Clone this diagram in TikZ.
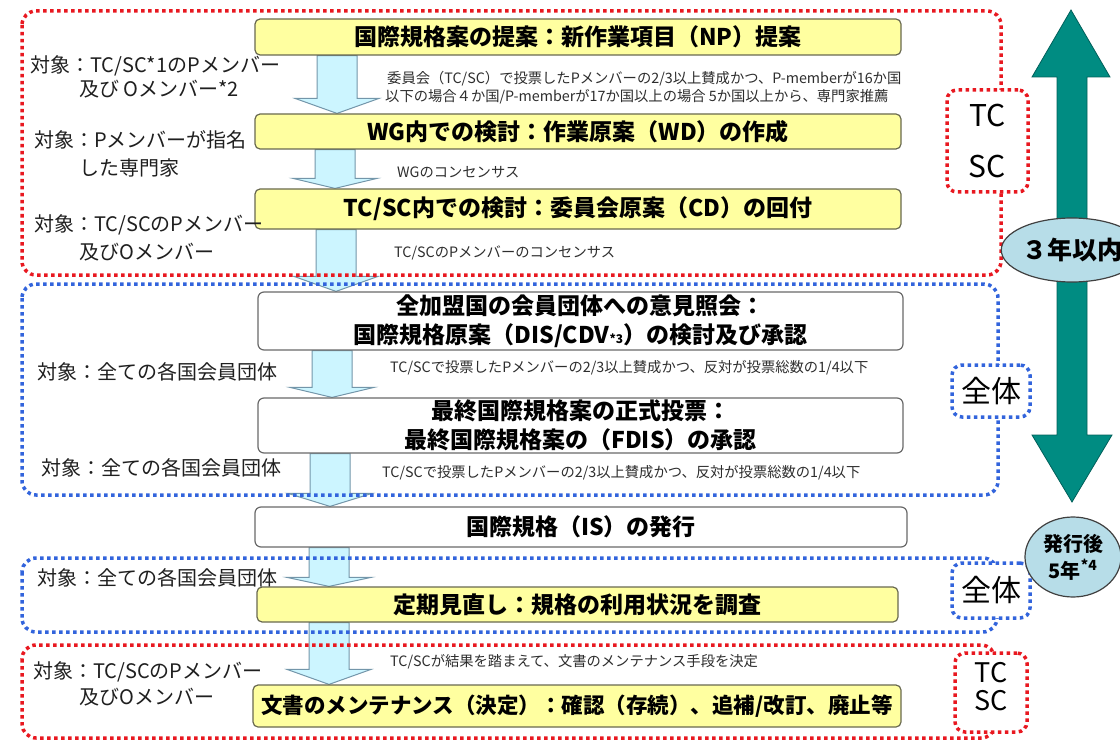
\documentclass[tikz,border=0pt]{standalone}
\usepackage{fontspec}
\setmainfont{Noto Sans CJK JP}
\usetikzlibrary{calc,shapes.geometric}
\definecolor{boxyellow}{RGB}{255,255,160}
\definecolor{boxedge}{RGB}{105,105,80}
\definecolor{whiteedge}{RGB}{105,105,105}
\definecolor{arrfill}{RGB}{204,245,255}
\definecolor{arredge}{RGB}{115,150,170}
\definecolor{dotred}{RGB}{232,24,32}
\definecolor{dotblue}{RGB}{50,100,220}
\definecolor{tealA}{RGB}{0,140,130}
\definecolor{tealB}{RGB}{0,95,90}
\definecolor{ellfill}{RGB}{183,221,232}
\definecolor{notegray}{RGB}{45,45,45}
\pgfdeclarelayer{bg}
\pgfsetlayers{bg,main}
\newcommand{\flowarrow}[4]{%
  \draw[flowarr] ($(#1.south -| #3)+(-20,0)$) -- ($(#1.south -| #3)+(20,0)$)
    -- ($(#2.north -| #3)+(20,-#4)$) -- ($(#2.north -| #3)+(42,-#4)$)
    -- (#2.north -| #3) -- ($(#2.north -| #3)+(-42,-#4)$)
    -- ($(#2.north -| #3)+(-20,-#4)$) -- cycle;}
\begin{document}
\begin{tikzpicture}[x=1pt,y=-1pt,
  yellowbox/.style={draw=boxedge, fill=boxyellow, line width=1.2pt, rounded corners=5pt, inner sep=0pt, font=\fontsize{23}{28}\selectfont\bfseries},
  whitebox/.style={draw=whiteedge, fill=white, line width=1.2pt, rounded corners=6pt, inner sep=0pt, align=center, font=\fontsize{23}{29}\selectfont\bfseries},
  flowarr/.style={draw=arredge, fill=arrfill, line width=1pt, line join=miter},
  reddots/.style={draw=dotred, line width=3.5pt, dash pattern=on 3.5pt off 3.5pt, rounded corners=14pt},
  bluedots/.style={draw=dotblue, line width=3.5pt, dash pattern=on 3.5pt off 3.5pt, rounded corners=14pt},
  smallred/.style={draw=dotred, fill=white, line width=3.5pt, dash pattern=on 3.5pt off 3.5pt, rounded corners=10pt, inner sep=0pt, align=center},
  smallblue/.style={draw=dotblue, fill=white, line width=3.5pt, dash pattern=on 3.5pt off 3.5pt, rounded corners=10pt, inner sep=0pt, align=center, font=\fontsize{30}{34}\selectfont},
  note/.style={anchor=west, inner sep=0pt, text=notegray, font=\fontsize{14.3}{17}\selectfont},
  lbl/.style={anchor=west, inner sep=0pt, text=black!88, font=\fontsize{20}{24}\selectfont},
  timeell/.style={ellipse, draw=black!75, fill=ellfill, line width=1.2pt, inner sep=0pt, align=center}
]
\useasboundingbox (0,0) rectangle (1120,741);

% main process boxes
\node[yellowbox, minimum width=646pt, minimum height=36pt] (b1) at (578,37) {国際規格案の提案：新作業項目（NP）提案};
\node[yellowbox, minimum width=646pt, minimum height=35pt] (b2) at (578,131.5) {WG内での検討：作業原案（WD）の作成};
\node[yellowbox, minimum width=646pt, minimum height=40pt] (b3) at (578,209) {TC/SC内での検討：委員会原案（CD）の回付};
\node[whitebox, minimum width=645pt, minimum height=58pt] (b4) at (580.5,321) {全加盟国の会員団体への意見照会：\\国際規格原案（DIS/CDV{\fontsize{12}{12}\selectfont *3}）の検討及び承認};
\node[whitebox, minimum width=645pt, minimum height=55pt] (b5) at (580.5,425.5) {最終国際規格案の正式投票：\\最終国際規格案の（FDIS）の承認};
\node[whitebox, minimum width=652pt, minimum height=40pt] (b6) at (581,527) {国際規格（IS）の発行};
\node[yellowbox, minimum width=641pt, minimum height=35pt] (b7) at (577.5,604.5) {定期見直し：規格の利用状況を調査};
\node[yellowbox, minimum width=648pt, minimum height=42pt, font=\fontsize{21.5}{26}\selectfont\bfseries] (b8) at (577,706) {文書のメンテナンス（決定）：確認（存続）、追補/改訂、廃止等};

% flow arrows (behind)
\coordinate (c1) at (337,0);
\coordinate (c2) at (335,0);
\coordinate (c3) at (336,0);
\coordinate (c4) at (332,0);
\coordinate (c5) at (330,0);
\coordinate (c6) at (329,0);
\coordinate (c7) at (329,0);
\begin{pgfonlayer}{bg}
\flowarrow{b1}{b2}{c1}{15}
\flowarrow{b2}{b3}{c2}{10}
\flowarrow{b3}{b4}{c3}{15}
\flowarrow{b4}{b5}{c4}{10}
\flowarrow{b5}{b6}{c5}{13}
\flowarrow{b6}{b7}{c6}{9}
\flowarrow{b7}{b8}{c7}{15}
\end{pgfonlayer}

% dotted group frames
\draw[reddots] (22,11) rectangle (1001,275);
\draw[bluedots] (22,284) rectangle (998,495);
\draw[bluedots] (22,558) rectangle (997,632);
\draw[reddots] (22,645) rectangle (995,738);

% small group tags
\node[smallred, minimum width=81pt, minimum height=102pt, font=\fontsize{30}{51}\selectfont] (s1) at (987.5,141) {TC\\SC};
\node[smallblue, minimum width=78pt, minimum height=52pt] (s2) at (991,391) {全体};
\node[smallblue, minimum width=78pt, minimum height=55pt] (s3) at (991,590.5) {全体};
\node[smallred, minimum width=72pt, minimum height=79pt] (s4) at (991,692.5) {};
\node[inner sep=0pt, font=\fontsize{27}{27}\selectfont] (s4a) at (991,673) {TC};
\node[inner sep=0pt, font=\fontsize{27}{27}\selectfont] (s4b) at (991,701) {SC};

% notes beside arrows
\node[note] (n1a) at (387,79) {委員会（TC/SC）で投票したPメンバーの2/3以上賛成かつ、P-memberが16か国};
\node[note] (n1b) at (385,97) {以下の場合４か国/P-memberが17か国以上の場合 5か国以上から、専門家推薦};
\node[note] (n2) at (397,172) {WGのコンセンサス};
\node[note] (n3) at (394,253) {TC/SCのPメンバーのコンセンサス};
\node[note] (n4) at (390,368) {TC/SCで投票したPメンバーの2/3以上賛成かつ、反対が投票総数の1/4以下};
\node[note] (n5) at (382,473) {TC/SCで投票したPメンバーの2/3以上賛成かつ、反対が投票総数の1/4以下};
\node[note] (n7) at (390,662) {TC/SCが結果を踏まえて、文書のメンテナンス手段を決定};

% target labels
\node[lbl] (l1a) at (30,66) {対象：TC/SC*1のPメンバー};
\node[lbl] (l1b) at (79,89) {及び Oメンバー*2};
\node[lbl] (l2a) at (34,140) {対象：Pメンバーが指名};
\node[lbl] (l2b) at (79,168) {した専門家};
\node[lbl] (l3a) at (34,225) {対象：TC/SCのPメンバー};
\node[lbl] (l3b) at (79,252) {及びOメンバー};
\node[lbl] (l4) at (37,372) {対象：全ての各国会員団体};
\node[lbl] (l5) at (41,468) {対象：全ての各国会員団体};
\node[lbl] (l6) at (37,578) {対象：全ての各国会員団体};
\node[lbl] (l7a) at (33,672) {対象：TC/SCのPメンバー};
\node[lbl] (l7b) at (79,697) {及びOメンバー};

% time-span double arrow
\filldraw[fill=tealA, draw=tealB, line width=0.8pt, line join=miter]
  (1071,10) -- (1110,77) -- (1087,77) -- (1087,435) -- (1112,435) -- (1072,502)
  -- (1032,435) -- (1057,435) -- (1057,77) -- (1032,77) -- cycle;
\node[timeell, minimum width=110pt, minimum height=64pt, font=\fontsize{25}{30}\selectfont\bfseries] (e1) at (1072,250) {３年以内};
\node[timeell, minimum width=96pt, minimum height=80pt, font=\fontsize{20}{27}\selectfont\bfseries] (e2) at (1073,557) {発行後\\5年\textsuperscript{*4}};
\end{tikzpicture}
\end{document}
